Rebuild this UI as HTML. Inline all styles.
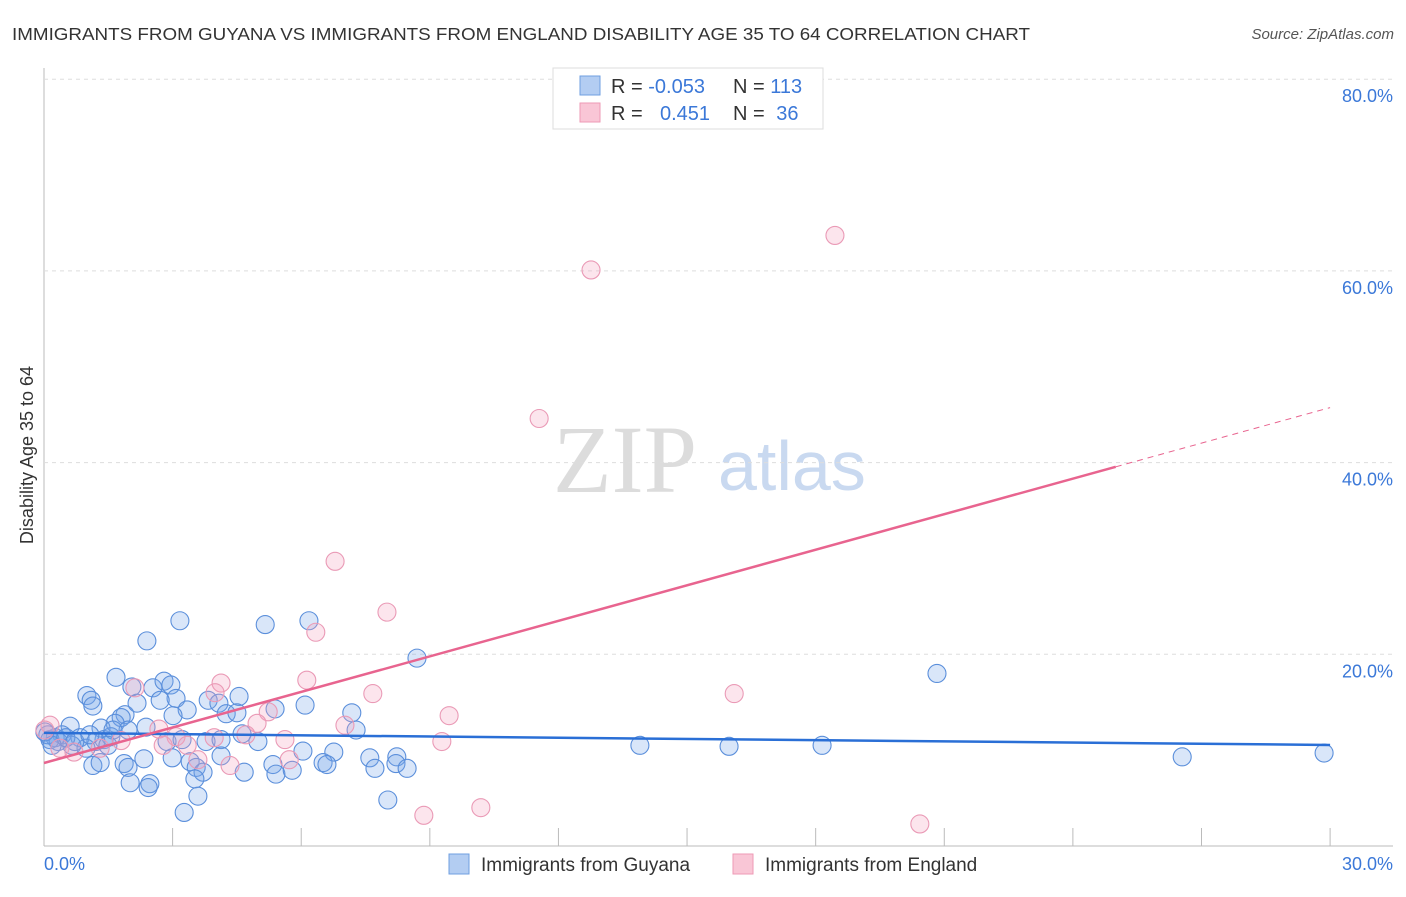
<!DOCTYPE html>
<html><head><meta charset="utf-8"><style>
body{margin:0;background:#fff;font-family:"Liberation Sans",sans-serif;}
svg text{font-family:"Liberation Sans",sans-serif;}
</style></head><body>
<svg id="c" width="1406" height="892">
<text x="12" y="40" font-size="17.5" fill="#333" textLength="1018" lengthAdjust="spacingAndGlyphs">IMMIGRANTS FROM GUYANA VS IMMIGRANTS FROM ENGLAND DISABILITY AGE 35 TO 64 CORRELATION CHART</text>
<text x="1394" y="39" font-size="15" fill="#555" font-style="italic" text-anchor="end">Source: ZipAtlas.com</text>
<text x="553" y="492" font-size="96" fill="#dcdcdc" font-family="Liberation Serif" style="font-family:'Liberation Serif',serif">ZIP</text>
<text x="718" y="490" font-size="70" fill="#c9d9f0">atlas</text>
<text transform="translate(33,455) rotate(-90)" font-size="18" fill="#333" text-anchor="middle">Disability Age 35 to 64</text>
<g id="grid"></g><g id="pts"></g><g id="lines"></g>
<g>
<rect x="553" y="68" width="270" height="61" fill="#fff" stroke="#ddd"/>
<rect x="580" y="76" width="20" height="19" fill="#b3cdf2" stroke="#6f9fe0"/>
<rect x="580" y="103" width="20" height="19" fill="#f9c6d6" stroke="#ee9ab5"/>
<text x="611" y="93" font-size="20" fill="#333">R = <tspan fill="#3b78d8">-0.053</tspan></text>
<text x="733" y="93" font-size="20" fill="#333">N = <tspan fill="#3b78d8">113</tspan></text>
<text x="611" y="120" font-size="20" fill="#333">R = </text>
<text x="660" y="120" font-size="20" fill="#3b78d8">0.451</text>
<text x="733" y="120" font-size="20" fill="#333">N = <tspan fill="#3b78d8" dx="6">36</tspan></text>
</g>
<g>
<rect x="449" y="854" width="20" height="20" fill="#b3cdf2" stroke="#6f9fe0"/>
<text x="481" y="871" font-size="19" fill="#333">Immigrants from Guyana</text>
<rect x="733" y="854" width="20" height="20" fill="#f9c6d6" stroke="#ee9ab5"/>
<text x="765" y="871" font-size="19" fill="#333">Immigrants from England</text>
</g>
</svg>
<script>
const xTicks=[0,3,6,9,12,15,18,21,24,27,30];
const yTicks=[20,40,60,80];
const gX=[2.40,3.17,5.16,6.18,8.70,20.83,1.68,1.00,1.10,1.14,2.05,2.54,2.80,2.96,3.08,2.71,3.34,3.01,3.83,4.08,4.55,4.25,4.50,6.09,5.39,7.18,1.89,1.80,2.17,1.66,1.33,0.61,0.42,0.26,0.14,0.09,0.84,0.65,1.40,1.21,1.56,2.38,1.96,2.87,3.22,3.78,4.13,4.62,4.99,6.04,6.76,7.28,7.60,8.23,7.72,8.21,13.90,15.98,18.15,26.55,29.86,1.14,1.31,1.87,1.96,2.33,2.99,3.41,3.55,3.71,4.13,4.67,5.34,5.41,5.79,6.51,6.60,8.47,3.52,2.01,2.47,2.43,3.59,3.27,8.02,1.61,0.33,0.51,0.98,0.72,1.49,0.02,0.19,1.07];
const gY=[21.4,23.5,23.1,23.5,19.6,18.0,17.6,15.7,15.2,14.6,16.6,16.5,17.2,16.8,15.4,15.2,14.2,13.6,15.2,14.9,15.6,13.8,13.9,14.7,14.3,13.9,13.7,13.4,14.9,12.8,12.3,12.5,11.6,11.3,11.1,11.6,11.3,10.5,11.1,10.9,11.4,12.4,12.1,10.9,11.1,10.9,11.1,11.7,10.9,9.9,9.8,12.1,9.2,9.3,8.1,8.6,10.5,10.4,10.5,9.3,9.7,8.4,8.7,8.6,8.2,9.1,9.2,8.8,8.2,7.7,9.4,7.7,8.5,7.5,7.9,8.7,8.5,8.1,7.0,6.6,6.5,6.1,5.2,3.5,4.8,12.1,10.9,11.3,10.2,10.9,10.5,11.9,10.5,11.6];
const eX=[18.45,12.76,11.55,6.79,8.00,6.34,6.13,4.13,2.12,3.99,7.67,16.10,5.23,9.45,4.97,4.71,7.02,3.08,5.62,9.28,1.80,3.59,4.34,5.72,8.86,10.19,20.43,0.14,0.02,0.37,0.70,1.31,2.68,3.34,3.97,2.78];
const eY=[63.7,60.1,44.6,29.7,24.4,22.3,17.3,17.0,16.5,16.0,15.9,15.9,14.0,13.6,12.8,11.6,12.6,11.4,11.1,10.9,11.0,9.0,8.4,9.0,3.2,4.0,2.3,12.6,12.1,10.2,9.8,10.2,12.2,10.5,11.3,10.5];
const gTrend=[11.8,10.54];
const eTrend=[8.66,39.56,25];
const X=v=>44+v*42.87, Y=v=>846-v*9.585;
const NS="http://www.w3.org/2000/svg";
function mk(t,a,p){const e=document.createElementNS(NS,t);for(const k in a)e.setAttribute(k,a[k]);p.appendChild(e);return e;}
const grid=document.getElementById('grid');
const ax=mk('line',{x1:44,y1:68,x2:44,y2:846,stroke:'#bbb'},grid);


const bx=mk('line',{x1:44,y1:846,x2:1393,y2:846,stroke:'#bbb'},grid);


yTicks.forEach(t=>{
 const l=mk('line',{x1:44,y1:Y(t),x2:1393,y2:Y(t),stroke:'#ddd','stroke-dasharray':'4,4'},grid);
 
 
 const tx=mk('text',{x:1393,y:Y(t)+23,'font-size':18,fill:'#3b78d8','text-anchor':'end'},grid);
 tx.textContent=t.toFixed(1)+'%';
 
 
});
xTicks.forEach(t=>{
 const l=mk('line',{x1:X(t),y1:828,x2:X(t),y2:846,stroke:'#bbb'},grid);
 
 
});
[[0,'start',44],[30,'end',1393]].forEach(([t,a,x])=>{
 const tx=mk('text',{x:x,y:870,'font-size':18,fill:'#3b78d8','text-anchor':a},grid);
 tx.textContent=t.toFixed(1)+'%';
 
 
});
const pts=document.getElementById('pts');
gX.forEach((x,i)=>{
 const c=mk('circle',{cx:X(x),cy:Y(gY[i]),r:9,fill:'rgba(120,165,235,0.28)',stroke:'#5b8fdb','stroke-width':1.1},pts);
 
 
});
eX.forEach((x,i)=>{
 const c=mk('circle',{cx:X(x),cy:Y(eY[i]),r:9,fill:'rgba(245,160,190,0.28)',stroke:'#ea9ab6','stroke-width':1.1},pts);
 
 
});
const lines=document.getElementById('lines');
const gl=mk('line',{x1:X(0),y1:Y(gTrend[0]),x2:X(30),y2:Y(gTrend[1]),stroke:'#2a6fd6','stroke-width':2.5},lines);


const el=mk('line',{x1:X(0),y1:Y(eTrend[0]),x2:X(eTrend[2]),y2:Y(eTrend[1]),stroke:'#e8648f','stroke-width':2.5},lines);


const slope=(eTrend[1]-eTrend[0])/eTrend[2];
const ed=mk('line',{x1:X(eTrend[2]),y1:Y(eTrend[1]),x2:X(30),y2:Y(eTrend[0]+slope*30),stroke:'#e8648f','stroke-width':1,'stroke-dasharray':'6,5'},lines);


</script>
</body></html>
